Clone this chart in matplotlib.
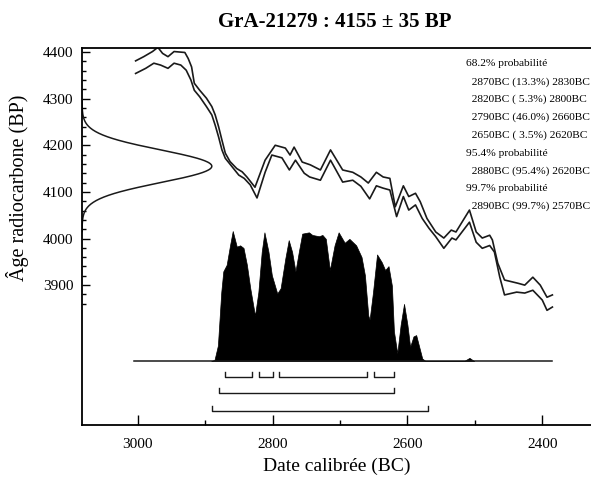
import numpy as np
import matplotlib.pyplot as plt
from matplotlib.ticker import FixedLocator

plt.rcParams['font.family'] = ['Liberation Serif', 'DejaVu Serif']

# date radiocarbone
c14_age = 4155
c14_err = 35

# courbe de calibration (bornes haute et basse), années BC / âge BP
cal_years_hi = [3003, 2991, 2978, 2970, 2963, 2955, 2946, 2930, 2925, 2920, 2916, 2908,
                2898, 2890, 2885, 2880, 2875, 2870, 2863, 2853, 2845, 2838, 2826, 2811,
                2796, 2781, 2774, 2768, 2756, 2744, 2729, 2714, 2696, 2681, 2669, 2658,
                2646, 2636, 2626, 2618, 2606, 2598, 2588, 2581, 2571, 2558, 2546, 2535,
                2528, 2508, 2498, 2489, 2478, 2474, 2466, 2456, 2436, 2426, 2414, 2403,
                2393, 2385]
cal_bp_hi = [4381, 4390, 4401, 4410, 4397, 4390, 4401, 4399, 4386, 4368, 4333, 4318,
             4301, 4283, 4265, 4240, 4211, 4183, 4165, 4150, 4143, 4132, 4110, 4168,
             4200, 4194, 4179, 4196, 4164, 4158, 4147, 4190, 4147, 4142, 4132, 4119,
             4142, 4132, 4129, 4068, 4113, 4090, 4097, 4079, 4043, 4014, 4001, 4018,
             4014, 4061, 4014, 4001, 4007, 3997, 3947, 3911, 3904, 3900, 3917, 3900,
             3874, 3879]
cal_years_lo = [3003, 2988, 2976, 2966, 2955, 2946, 2936, 2928, 2921, 2916, 2908, 2898,
                2890, 2885, 2880, 2875, 2870, 2860, 2850, 2842, 2833, 2823, 2811, 2801,
                2786, 2775, 2766, 2753, 2745, 2729, 2714, 2696, 2681, 2669, 2656, 2646,
                2636, 2626, 2616, 2606, 2598, 2588, 2578, 2568, 2558, 2546, 2534, 2528,
                2508, 2498, 2489, 2478, 2471, 2463, 2456, 2438, 2426, 2414, 2400, 2393,
                2385]
cal_bp_lo = [4354, 4365, 4376, 4372, 4365, 4376, 4372, 4361, 4340, 4318, 4304, 4283,
             4265, 4243, 4218, 4190, 4172, 4154, 4136, 4129, 4115, 4087, 4142, 4179,
             4173, 4147, 4168, 4140, 4132, 4125, 4168, 4121, 4125, 4112, 4085, 4113,
             4108, 4104, 4047, 4090, 4061, 4072, 4043, 4022, 4004, 3979, 4001, 3997,
             4035, 3992, 3979, 3985, 3971, 3917, 3879, 3885, 3883, 3889, 3868, 3846,
             3853]

# distribution calibrée (probabilité relative)
prob_years = [2891, 2886, 2881, 2876, 2873, 2868, 2863, 2859, 2853, 2848, 2843, 2838,
              2833, 2826, 2821, 2816, 2812, 2806, 2801, 2793, 2788, 2781, 2776, 2771,
              2766, 2761, 2756, 2746, 2741, 2731, 2726, 2721, 2715, 2708, 2702, 2693,
              2686, 2676, 2668, 2663, 2658, 2656, 2651, 2645, 2638, 2633, 2628, 2623,
              2620, 2615, 2610, 2605, 2600, 2596, 2591, 2587, 2583, 2578, 2573,
              2516, 2508, 2501]
prob_vals = [0.0, 0.01, 0.12, 0.53, 0.69, 0.74, 0.89, 1.0, 0.88, 0.89, 0.87, 0.74,
             0.56, 0.35, 0.53, 0.84, 0.99, 0.84, 0.66, 0.52, 0.56, 0.79, 0.93, 0.84,
             0.69, 0.84, 0.98, 0.99, 0.97, 0.96, 0.97, 0.94, 0.70, 0.89, 0.99, 0.91,
             0.94, 0.89, 0.80, 0.66, 0.35, 0.32, 0.53, 0.82, 0.76, 0.70, 0.73, 0.58,
             0.23, 0.06, 0.28, 0.44, 0.28, 0.11, 0.19, 0.20, 0.12, 0.02, 0.0,
             0.0, 0.025, 0.0]

# intervalles
ranges_68 = [(2870, 2830), (2820, 2800), (2790, 2660), (2650, 2620)]
ranges_95 = [(2880, 2620)]
ranges_99 = [(2890, 2570)]

legend_lines = ["68.2% probabilité",
                "  2870BC (13.3%) 2830BC",
                "  2820BC ( 5.3%) 2800BC",
                "  2790BC (46.0%) 2660BC",
                "  2650BC ( 3.5%) 2620BC",
                "95.4% probabilité",
                "  2880BC (95.4%) 2620BC",
                "99.7% probabilité",
                "  2890BC (99.7%) 2570BC"]

W, H = 591, 479
fig = plt.figure(figsize=(W / 100, H / 100), dpi=100)
ax = fig.add_axes([82 / W, 1 - 425 / H, 1 - 82 / W + 0.01, (425 - 48) / H])

x_left, x_right = 3082.5, 2319
ax.set_xlim(x_left, x_right)
ax.set_ylim(3600, 4408.6)

# courbe de calibration
ax.plot(cal_years_hi, cal_bp_hi, color='#1a1a1a', lw=1.2, solid_joinstyle='round')
ax.plot(cal_years_lo, cal_bp_lo, color='#1a1a1a', lw=1.2, solid_joinstyle='round')

# gaussienne de la date radiocarbone, le long de l'axe vertical
bp = np.linspace(c14_age - 4 * c14_err, c14_age + 4 * c14_err, 300)
dens = np.exp(-0.5 * ((bp - c14_age) / c14_err) ** 2)
ax.plot(x_left - 192.5 * dens, bp, color='#1a1a1a', lw=1.1)

# distribution calibrée
base = 3737
h = 279
py = np.array(prob_years, dtype=float)
pv = np.array(prob_vals)
ax.fill_between(py, base, base + h * pv, color='black', lw=0.5)
ax.plot([3006, 2385], [base, base], color='#1a1a1a', lw=1.1)


def bracket(ranges, y):
    for a, b in ranges:
        ax.plot([a, a, b, b], [y + 11, y, y, y + 11], color='#1a1a1a', lw=1.0)


bracket(ranges_68, 3703)
bracket(ranges_95, 3668)
bracket(ranges_99, 3630)

# axes
ax.spines['right'].set_visible(False)
for s in ['left', 'top', 'bottom']:
    ax.spines[s].set_linewidth(1.3)

ax.xaxis.set_major_locator(FixedLocator([3000, 2800, 2600, 2400]))
ax.xaxis.set_minor_locator(FixedLocator([2900, 2700, 2500]))
ax.yaxis.set_major_locator(FixedLocator([3900, 4000, 4100, 4200, 4300, 4400]))
ax.yaxis.set_minor_locator(FixedLocator(list(range(3860, 4400, 20))))
ax.tick_params(axis='x', which='major', direction='in', length=7, width=1.0, labelsize=11, pad=9)
ax.tick_params(axis='x', which='minor', direction='in', length=3.6, width=1.0)
ax.tick_params(axis='y', which='major', direction='in', length=5.5, width=1.0, labelsize=11, pad=6)
ax.tick_params(axis='y', which='minor', direction='in', length=3, width=1.0)

fig.text(335 / W, 1 - 22 / H, "GrA-21279 : 4155 ± 35 BP", ha='center', va='center',
         fontsize=15, fontweight='bold')
fig.text(18 / W, 1 - 188 / H, "Âge radiocarbone (BP)", ha='center', va='center',
         rotation=90, fontsize=14.5)
fig.text(337 / W, 1 - 466 / H, "Date calibrée (BC)", ha='center', va='center', fontsize=14)

for i, line in enumerate(legend_lines):
    fig.text(466 / W, 1 - (64 + 17.8 * i) / H, line, ha='left', va='center', fontsize=8.2)

fig.savefig('out.png', dpi=100)
